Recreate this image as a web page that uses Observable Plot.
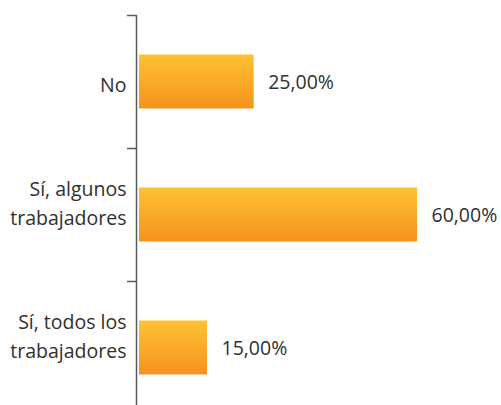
<!DOCTYPE html>
<html>
<head>
<meta charset="utf-8">
<script src="https://cdn.jsdelivr.net/npm/d3@7"></script>
<script src="https://cdn.jsdelivr.net/npm/@observablehq/plot@0.6"></script>
<style>
  html, body { margin: 0; padding: 0; background: #fff; }
  #chart svg { display: block; }
</style>
</head>
<body>
<div id="chart"></div>
<script>
const categories = ["No", "Sí, algunos\ntrabajadores", "Sí, todos los\ntrabajadores"];
const values = [25, 60, 15];

const data = categories.map((c, i) => ({i, label: c, value: values[i]}));
const fmt = v => v.toFixed(2).replace(".", ",") + "%";

const textColor = "#303030";
const axisColor = "#595959";
const font = "'Open Sans', 'Noto Sans', sans-serif";

const plot = Plot.plot({
  width: 501,
  height: 405,
  marginLeft: 136,
  marginRight: 84,
  marginTop: 15,
  marginBottom: 0,
  style: {fontFamily: font, background: "#fff", overflow: "visible"},
  x: {domain: [0, 60], range: [137, 417], axis: null, label: null},
  y: {domain: [0, 3], range: [15, 414], axis: null, label: null},
  marks: [
    Plot.rectX(data, {
      x: "value", y: "i", interval: 1,
      insetTop: 39.5, insetBottom: 39.5, insetLeft: 2,
      fill: "url(#barGrad)"
    }),
    Plot.ruleX([0], {y1: 0, y2: 3, dx: -1, stroke: axisColor, strokeWidth: 1.5}),
    Plot.axisY([0, 1, 2, 3], {
      tickSize: 9, tickFormat: () => "", label: null,
      stroke: axisColor, strokeWidth: 1.5
    }),
    Plot.text(data, {
      x: 0, y: d => d.i + 0.5, text: "label",
      textAnchor: "end", lineAnchor: "bottom", lineHeight: 1.5,
      dx: -11, dy: 10, fontSize: 19.5, fill: textColor
    }),
    Plot.text(data, {
      x: "value", y: d => d.i + 0.5, text: d => fmt(d.value),
      textAnchor: "start", lineAnchor: "middle",
      dx: 14, dy: 1, fontSize: 19.5, fill: textColor
    })
  ]
});

d3.select(plot).insert("defs", ":first-child").html(
  `<linearGradient id="barGrad" x1="0" y1="0" x2="0" y2="1">
     <stop offset="0" stop-color="#FEC234"/>
     <stop offset="1" stop-color="#F6921E"/>
   </linearGradient>`
);

document.getElementById("chart").appendChild(plot);
</script>
</body>
</html>
